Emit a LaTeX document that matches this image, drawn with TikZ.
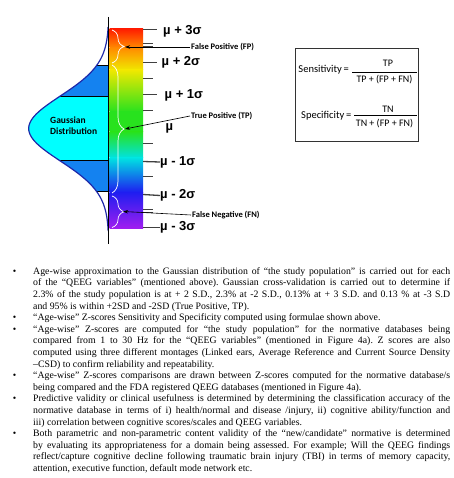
\documentclass[tikz,border=0pt]{standalone}
\usepackage{fontspec}
\setmainfont{Liberation Serif}
\newfontfamily\labfont{Liberation Sans}
\newfontfamily\calfont{Carlito}
\usetikzlibrary{arrows.meta,positioning,decorations.pathreplacing}
\definecolor{barred}{RGB}{255,30,0}
\definecolor{barorange}{RGB}{255,140,0}
\definecolor{baryellow}{RGB}{240,232,0}
\definecolor{bargreen}{RGB}{40,226,30}
\definecolor{barcyan}{RGB}{0,226,226}
\definecolor{barblue}{RGB}{30,30,240}
\definecolor{barviolet}{RGB}{160,30,240}
\definecolor{gaussdark}{RGB}{20,130,240}
\definecolor{gausslight}{RGB}{0,255,255}
\definecolor{gausscurve}{RGB}{30,40,170}
\newcommand{\bul}{\par\noindent\llap{\textbullet\hspace{17pt}}}

\begin{document}
\begin{tikzpicture}[x=1pt, y=-1pt,
  declare function={gx(\t)=108.7-80*exp(-((\t-128.5)^2)/2100);},
  siglab/.style={font=\labfont\bfseries\fontsize{13}{15}\selectfont, anchor=west, inner sep=0pt},
  ticklin/.style={black!75, line width=1.3pt},
  callout/.style={font=\calfont\bfseries\fontsize{8.5}{10}\selectfont, anchor=west, inner sep=1pt},
  ptr/.style={-{Stealth[length=5pt,width=3.5pt]}, line width=0.6pt},
  bracew/.style={white, line width=0.7pt, decorate, decoration={brace, amplitude=12pt}},
  formula/.style={font=\calfont\fontsize{10}{12}\selectfont, inner sep=0pt},
  formlab/.style={font=\calfont\fontsize{10.5}{12}\selectfont, inner sep=0pt, anchor=east},
  bodytext/.style={text width=417pt, align=justify, inner sep=0pt, anchor=north west,
    font=\fontsize{9.8}{11.6}\selectfont\frenchspacing}
]
  \useasboundingbox (0,0) rectangle (453,478);

  % gaussian curve with shaded bands
  \fill[gaussdark] plot[domain=65.5:191.7, samples=40] ({gx(\x)},\x) -- (108.7,191.7) -- (108.7,65.5) -- cycle;
  \fill[gausslight] plot[domain=96.3:160.3, samples=30] ({gx(\x)},\x) -- (108.7,160.3) -- (108.7,96.3) -- cycle;
  \draw[line width=0.8pt] ({gx(65.5)},65.5) -- (108.7,65.5);
  \draw[line width=0.8pt] ({gx(96.3)},96.3) -- (108.7,96.3);
  \draw[line width=0.8pt] ({gx(160.3)},160.3) -- (108.7,160.3);
  \draw[line width=0.8pt] ({gx(191.7)},191.7) -- (108.7,191.7);
  \draw[gausscurve, line width=1.2pt] plot[domain=27:231, samples=90] ({gx(\x)},\x);
  \node[font=\calfont\bfseries\fontsize{9.5}{11}\selectfont, align=left, anchor=west, inner sep=0pt]
    (gauss) at (50,125.5) {Gaussian\\Distribution};

  % colour bar
  \shade[top color=barred, bottom color=barorange] (109.5,29) rectangle (143,48);
  \shade[top color=barorange, bottom color=baryellow] (109.5,48) rectangle (143,70);
  \shade[top color=baryellow, bottom color=bargreen] (109.5,70) rectangle (143,112);
  \shade[top color=bargreen, bottom color=bargreen] (109.5,112) rectangle (143,132);
  \shade[top color=bargreen, bottom color=barcyan] (109.5,132) rectangle (143,158);
  \shade[top color=barcyan, bottom color=barblue] (109.5,158) rectangle (143,192);
  \shade[top color=barblue, bottom color=barviolet] (109.5,192) rectangle (143,228.3);
  \draw[line width=0.8pt] (108.7,17) -- (108.7,244);

  % sigma scale
  \node[siglab] (p3) at (163,31) {\textmu{} + 3σ};
  \node[siglab] (p2) at (161.5,62.5) {\textmu{} + 2σ};
  \node[siglab] (p1) at (164.5,95.5) {\textmu{} + 1σ};
  \node[siglab] (mu) at (165.5,128.5) {\textmu};
  \node[siglab] (m1) at (160,162) {\textmu{} - 1σ};
  \node[siglab] (m2) at (160,195.5) {\textmu{} - 2σ};
  \node[siglab] (m3) at (160,227.5) {\textmu{} - 3σ};
  \draw[ticklin] (143,29.5) -- (157,29.5);
  \draw[ticklin] (143,62.3) -- (157,62.3);
  \draw[ticklin] (143,94.5) -- (157,94.5);
  \draw[ticklin] (143,161.5) -- (m1.west);
  \draw[ticklin] (143,194.5) -- (m2.west);
  \draw[ticklin] (143,227.5) -- (m3.west);
  \draw[ticklin] (143,43.3) -- (153,43.3);
  \draw[ticklin] (143,46.3) -- (153,46.3);
  \draw[ticklin] (143,78.3) -- (153,78.3);
  \draw[ticklin] (143,110.5) -- (153,110.5);
  \draw[ticklin] (143,143.5) -- (153,143.5);
  \draw[ticklin] (143,176.7) -- (153,176.7);
  \draw[ticklin] (143,209.3) -- (153,209.3);
  \draw[ticklin] (143,212.3) -- (153,212.3);

  % braces and callouts
  \draw[bracew] (112,30) -- (112,63);
  \draw[bracew] (112,65) -- (112,193);
  \draw[bracew] (112,196) -- (112,227.5);
  \coordinate (fptip) at (125,47);
  \coordinate (tptip) at (125,129);
  \coordinate (fntip) at (123,211.5);
  \node[callout] (fplab) at (190,47) {False Positive (FP)};
  \node[callout] (tplab) at (190,116) {True Positive (TP)};
  \node[callout] (fnlab) at (191,215) {False Negative (FN)};
  \draw[ptr] (fplab.west) -- (fptip);
  \draw[ptr] (tplab.west) -- (tptip);
  \draw[ptr] (fnlab.west) -- (fntip);

  % formula box
  \node[draw=black!80, line width=0.8pt, minimum width=123pt, minimum height=93.5pt, inner sep=0pt]
    (fbox) at (356.7,95) {};
  \node[formlab] (senslab) at (349,69.5) {Sensitivity\,=};
  \node[formula] (sensnum) at (388,63) {TP};
  \node[formula] (sensden) at (384.5,79.5) {TP + (FP + FN)};
  \draw[line width=0.6pt] (352,72.7) -- (416.7,72.7);
  \node[formlab] (speclab) at (351.5,116) {Specificity\,=};
  \node[formula] (specnum) at (388,109.5) {TN};
  \node[formula] (specden) at (384.5,123.5) {TN + (FP + FN)};
  \draw[line width=0.6pt] (354,115.5) -- (416.7,115.5);

  % notes
  \node[bodytext] (notes) at (33,262.5) {%
    \bul Age-wise approximation to the Gaussian distribution of ``the study population'' is carried out for each\linebreak
    of the ``QEEG variables'' (mentioned above). Gaussian cross-validation is carried out to determine if\linebreak
    2.3\% of the study population is at + 2 S.D., 2.3\% at -2 S.D., 0.13\% at + 3 S.D. and 0.13 \% at -3 S.D\linebreak
    and 95\% is within +2SD and -2SD (True Positive, TP).
    \bul ``Age-wise'' Z-scores Sensitivity and Specificity computed using formulae shown above.
    \bul ``Age-wise'' Z-scores are computed for ``the study population'' for the normative databases being\linebreak
    compared from 1 to 30 Hz for the ``QEEG variables'' (mentioned in Figure 4a). Z scores are also\linebreak
    computed using three different montages (Linked ears, Average Reference and Current Source Density\linebreak
    --CSD) to confirm reliability and repeatability.
    \bul ``Age-wise'' Z-scores comparisons are drawn between Z-scores computed for the normative database/s\linebreak
    being compared and the FDA registered QEEG databases (mentioned in Figure 4a).
    \bul Predictive validity or clinical usefulness is determined by determining the classification accuracy of the\linebreak
    normative database in terms of i) health/normal and disease /injury, ii) cognitive ability/function and\linebreak
    iii) correlation between cognitive scores/scales and QEEG variables.
    \bul Both parametric and non-parametric content validity of the ``new/candidate'' normative is determined\linebreak
    by evaluating its appropriateness for a domain being assessed. For example; Will the QEEG findings\linebreak
    reflect/capture cognitive decline following traumatic brain injury (TBI) in terms of memory capacity,\linebreak
    attention, executive function, default mode network etc.};
\end{tikzpicture}
\end{document}
